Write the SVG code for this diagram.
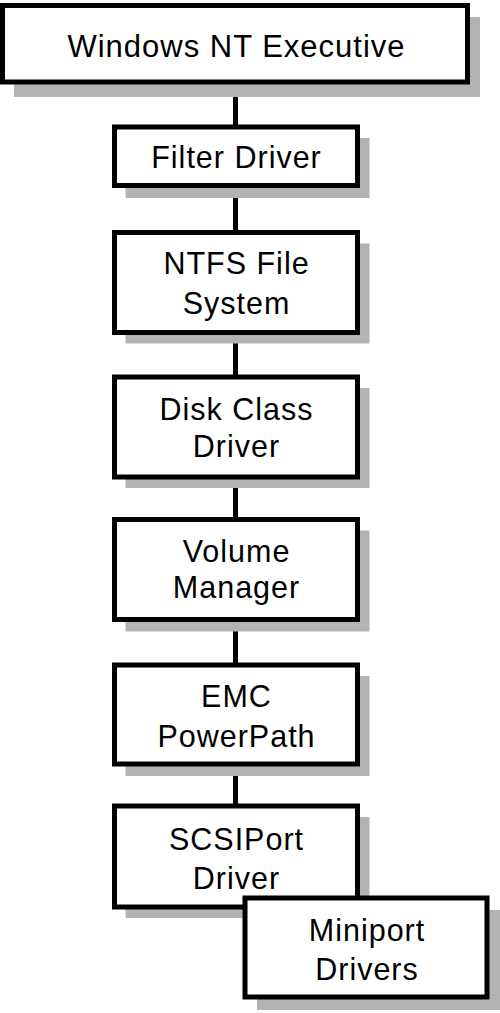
<svg xmlns="http://www.w3.org/2000/svg" width="500" height="1013" viewBox="0 0 500 1013">
<style>
.box{fill:#fff;stroke:#000;stroke-width:5}
.sh{fill:#b3b3b3}
.t{font-family:"Liberation Sans",Arial,sans-serif;font-size:30.5px;letter-spacing:1px;text-anchor:middle;fill:#000}
.c{stroke:#000;stroke-width:5;fill:none}
</style>
<rect width="500" height="1013" fill="#fff"/>
<g id="connectors">
<line class="c" x1="235.5" y1="82" x2="235.5" y2="127"/>
<line class="c" x1="235.5" y1="185.5" x2="235.5" y2="232.5"/>
<line class="c" x1="235.5" y1="332.5" x2="235.5" y2="377"/>
<line class="c" x1="235.5" y1="477" x2="235.5" y2="519.5"/>
<line class="c" x1="235.5" y1="619.5" x2="235.5" y2="665"/>
<line class="c" x1="235.5" y1="764" x2="235.5" y2="806"/>
</g>
<g id="executive">
<rect class="sh" x="14" y="17" width="466" height="80"/>
<rect class="box" x="2.5" y="5.5" width="465" height="76.5"/>
<text class="t" x="236.5" y="57" style="font-size:31px">Windows NT Executive</text>
</g>
<g id="filter">
<rect class="sh" x="125.5" y="138" width="244" height="60"/>
<rect class="box" x="114.5" y="127" width="243" height="58.5"/>
<text class="t" x="236.5" y="168">Filter Driver</text>
</g>
<g id="ntfs">
<rect class="sh" x="125.5" y="243.5" width="244" height="100"/>
<rect class="box" x="114.5" y="232.5" width="243" height="100"/>
<text class="t" x="236.5" y="274">NTFS File</text>
<text class="t" x="236.5" y="313.5">System</text>
</g>
<g id="diskclass">
<rect class="sh" x="125.5" y="388" width="244" height="100"/>
<rect class="box" x="114.5" y="377" width="243" height="100"/>
<text class="t" x="236.5" y="420">Disk Class</text>
<text class="t" x="236.5" y="457">Driver</text>
</g>
<g id="volume">
<rect class="sh" x="125.5" y="530.5" width="244" height="101"/>
<rect class="box" x="114.5" y="519.5" width="243" height="100"/>
<text class="t" x="236.5" y="561.5">Volume</text>
<text class="t" x="236.5" y="598">Manager</text>
</g>
<g id="emc">
<rect class="sh" x="125.5" y="676" width="244" height="100"/>
<rect class="box" x="114.5" y="665" width="243" height="99"/>
<text class="t" x="236.5" y="706.5">EMC</text>
<text class="t" x="236.5" y="746.5">PowerPath</text>
</g>
<g id="scsiport">
<rect class="sh" x="125.5" y="817" width="244" height="101"/>
<rect class="box" x="114.5" y="806" width="243" height="101"/>
<text class="t" x="236.5" y="850">SCSIPort</text>
<text class="t" x="236.5" y="889">Driver</text>
</g>
<g id="miniport">
<rect class="sh" x="257" y="910" width="243" height="100"/>
<rect class="box" x="245" y="898" width="242" height="99"/>
<text class="t" x="367" y="941">Miniport</text>
<text class="t" x="367" y="980">Drivers</text>
</g>
</svg>
